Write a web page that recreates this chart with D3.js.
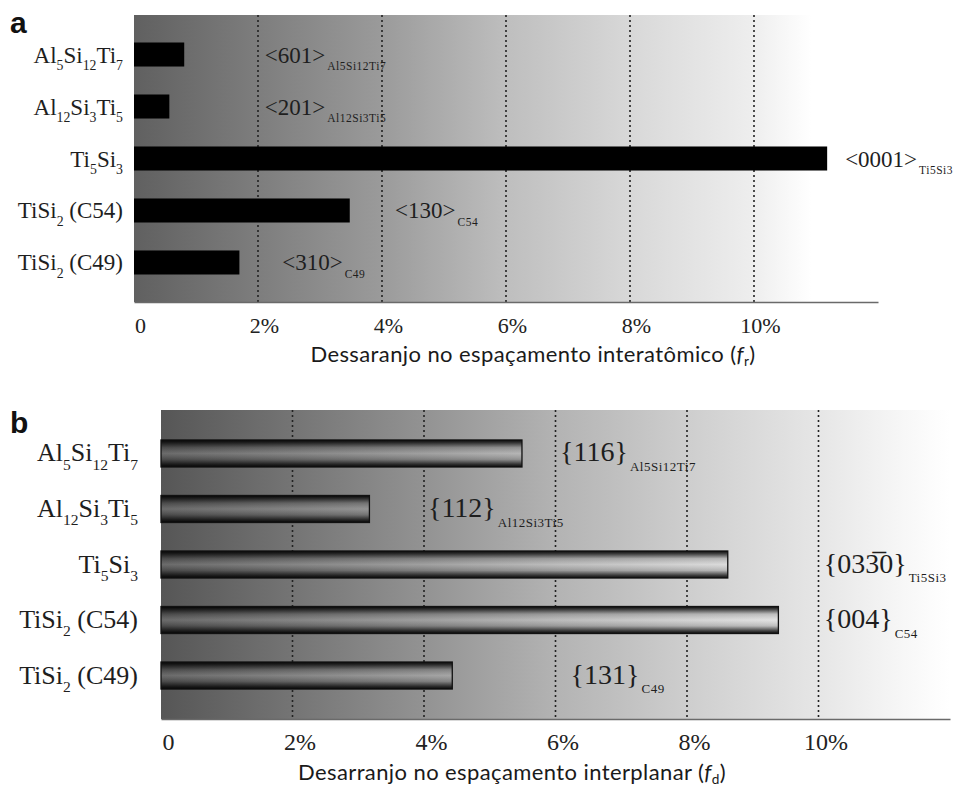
<!DOCTYPE html>
<html>
<head>
<meta charset="utf-8">
<script src="https://cdn.jsdelivr.net/npm/d3@7"></script>
<style>
  body { margin: 0; background: #fff; }
  svg { display: block; }
</style>
</head>
<body>
<svg id="chart" width="963" height="789"></svg>
<script>
// ---- data -------------------------------------------------------------
const phases = ["Al5Si12Ti7", "Al12Si3Ti5", "Ti5Si3", "TiSi2 (C54)", "TiSi2 (C49)"];
// misfit in interatomic spacing, f_r (%)
const misfitAtomic = [0.81, 0.57, 11.18, 3.48, 1.70];
// misfit in interplanar spacing, f_d (%)
const misfitPlanar = [5.49, 3.17, 8.62, 9.39, 4.43];
// matching directions and planes, with the phase they belong to
const directions = ["<601>", "<201>", "<0001>", "<130>", "<310>"];
const planes = ["{116}", "{112}", "{03" + "3\u0305" + "0}", "{004}", "{131}"];
const noteSubs = ["Al5Si12Ti7", "Al12Si3Ti5", "Ti5Si3", "C54", "C49"];
const tickValues = [0, 2, 4, 6, 8, 10];
const gridValues = [2, 4, 6, 8, 10];

// ---- layout (where each note starts, in % units of its axis) ---------
const noteAtA = [2.11, 2.11, 11.47, 4.21, 2.39];
const noteAtB = [6.07, 4.06, 10.08, 10.08, 6.23];

const svg = d3.select("#chart");
const defs = svg.append("defs");
const serif = "'Liberation Serif', 'Times New Roman', serif";
const sans = "Lato, 'Open Sans', sans-serif";

// split a formula such as "TiSi2 (C54)" into normal / subscript runs
function formulaRuns(s) {
  const runs = [];
  let depth = 0, prevLetter = false;
  for (const ch of s) {
    if (ch === "(") depth++;
    if (ch === ")") depth--;
    const isDigit = /[0-9]/.test(ch);
    const sub = isDigit && depth === 0 && prevLetter;
    if (runs.length && runs[runs.length - 1].sub === sub) runs[runs.length - 1].t += ch;
    else runs.push({ t: ch, sub });
    prevLetter = /[A-Za-z]/.test(ch) || sub;
  }
  return runs;
}

function writeRuns(textSel, runs, subSize, shift) {
  let down = false;
  runs.forEach(r => {
    const ts = textSel.append("tspan").text(r.t);
    if (r.sub && !down) { ts.attr("dy", shift); down = true; }
    else if (!r.sub && down) { ts.attr("dy", -shift); down = false; }
    if (r.sub) ts.attr("font-size", subSize);
  });
}

function gradient(id, x1, x2, stops) {
  const g = defs.append("linearGradient").attr("id", id)
    .attr("gradientUnits", "userSpaceOnUse")
    .attr("x1", x1).attr("x2", x2).attr("y1", 0).attr("y2", 0);
  stops.forEach(([o, c]) => g.append("stop").attr("offset", o).attr("stop-color", c));
}

// tube shading for the bars of panel b
const shade = defs.append("linearGradient").attr("id", "tube")
  .attr("x1", 0).attr("y1", 0).attr("x2", 0).attr("y2", 1);
[[0, "#000", 0.95], [0.1, "#000", 0.7], [0.28, "#000", 0.15], [0.5, "#fff", 0.12],
 [0.72, "#000", 0.15], [0.9, "#000", 0.7], [1, "#000", 0.95]]
  .forEach(([o, c, a]) => shade.append("stop").attr("offset", o)
    .attr("stop-color", c).attr("stop-opacity", a));

function drawPanel(cfg) {
  const g = svg.append("g");
  const x = d3.scaleLinear().domain([0, 12]).range([cfg.left, cfg.right]);
  const y = d3.scaleBand().domain(phases).range([cfg.top, cfg.bottom])
    .paddingInner(cfg.padIn).paddingOuter(cfg.padOut);

  gradient(cfg.id, cfg.left, cfg.right, cfg.stops);

  // shaded plotting area
  g.append("rect")
    .attr("x", x(0)).attr("y", cfg.top)
    .attr("width", x(12) - x(0)).attr("height", cfg.bottom - cfg.top)
    .attr("fill", `url(#${cfg.id})`);

  // dotted grid
  g.selectAll(".grid").data(gridValues).join("line")
    .attr("x1", d => x(d)).attr("x2", d => x(d))
    .attr("y1", cfg.top).attr("y2", cfg.bottom)
    .attr("stroke", "#222").attr("stroke-width", 1.6)
    .attr("stroke-dasharray", "2,3");

  // bars
  const values = cfg.values;
  if (cfg.tube) {
    g.selectAll(".barbase").data(phases).join("rect")
      .attr("x", x(0)).attr("y", d => y(d))
      .attr("width", (d, i) => x(values[i]) - x(0)).attr("height", y.bandwidth())
      .attr("fill", `url(#${cfg.id})`);
    g.selectAll(".bar").data(phases).join("rect")
      .attr("x", x(0)).attr("y", d => y(d))
      .attr("width", (d, i) => x(values[i]) - x(0)).attr("height", y.bandwidth())
      .attr("fill", "url(#tube)").attr("stroke", "#111").attr("stroke-width", 1.3);
  } else {
    g.selectAll(".bar").data(phases).join("rect")
      .attr("x", x(0)).attr("y", d => y(d))
      .attr("width", (d, i) => x(values[i]) - x(0)).attr("height", y.bandwidth())
      .attr("fill", "#000");
  }

  // phase names
  phases.forEach(p => {
    const t = g.append("text")
      .attr("x", cfg.labelX).attr("y", y(p) + y.bandwidth() / 2 + 8)
      .attr("text-anchor", "end").attr("font-family", serif)
      .attr("font-size", cfg.labelSize).attr("fill", "#1e1e1e");
    writeRuns(t, formulaRuns(p), cfg.labelSize * 0.6, cfg.labelSize * 0.32);
  });

  // orientation notes
  cfg.notes.forEach((n, i) => {
    const t = g.append("text")
      .attr("x", x(cfg.noteAt[i])).attr("y", y(phases[i]) + y.bandwidth() / 2 + 8)
      .attr("font-family", serif).attr("font-size", cfg.noteSize).attr("fill", "#1e1e1e");
    t.append("tspan").text(n);
    t.append("tspan").attr("dy", cfg.noteSize * 0.34).attr("dx", 2)
      .attr("letter-spacing", 0.5)
      .attr("font-size", cfg.subSize).text(noteSubs[i]);
  });

  // x axis
  const axis = d3.axisBottom(x).tickValues(tickValues).tickSize(0).tickSizeOuter(0)
    .tickFormat(v => v === 0 ? "0" : v + "%");
  const ax = g.append("g").attr("transform", `translate(0,${cfg.bottom})`).call(axis);
  ax.select(".domain").attr("stroke", "#6a6a6a").attr("stroke-width", 1.6);
  ax.selectAll(".tick text")
    .attr("y", cfg.tickDrop).attr("dy", 0).attr("dx", cfg.tickShift)
    .attr("font-family", serif).attr("font-size", cfg.tickSize).attr("fill", "#222");

  // axis title
  const title = g.append("text")
    .attr("x", cfg.titleX).attr("y", cfg.titleY).attr("text-anchor", "middle")
    .attr("font-family", sans).attr("font-size", cfg.titleSize)
    .attr("letter-spacing", 0.4).attr("fill", "#1a1a1a");
  title.append("tspan").text(cfg.title + " (");
  title.append("tspan").attr("font-style", "italic").text("f");
  title.append("tspan").attr("dy", 4).attr("font-size", cfg.titleSize * 0.62).text(cfg.titleSub);
  title.append("tspan").attr("dy", -4).text(")");

  // panel letter
  g.append("text").attr("x", cfg.letterX).attr("y", cfg.letterY)
    .attr("font-family", "'Liberation Sans', Arial, sans-serif").attr("font-weight", "bold")
    .attr("font-size", 30).attr("fill", "#111").text(cfg.letter);
}

drawPanel({
  id: "bgA", letter: "a", letterX: 10, letterY: 33,
  left: 134, right: 878, top: 15, bottom: 302, padIn: 0.538, padOut: 0.529,
  values: misfitAtomic, tube: false,
  stops: [[0, "#606060"], [0.33, "#9a9a9a"], [0.5, "#bebebe"], [0.667, "#d8d8d8"],
          [0.832, "#eeeeee"], [0.91, "#ffffff"], [1, "#ffffff"]],
  labelX: 123, labelSize: 23,
  notes: directions, noteAt: noteAtA, noteSize: 23, subSize: 11.5,
  tickSize: 22, tickDrop: 31, tickShift: 6,
  title: "Dessaranjo no espaçamento interatômico", titleSub: "r",
  titleX: 533, titleY: 362, titleSize: 22
});

drawPanel({
  id: "bgB", letter: "b", letterX: 10, letterY: 433,
  left: 161, right: 950, top: 410, bottom: 719, padIn: 0.5135, padOut: 0.54,
  values: misfitPlanar, tube: true,
  stops: [[0, "#565656"], [0.33, "#929292"], [0.5, "#b3b3b3"], [0.668, "#cecece"],
          [0.833, "#e6e6e6"], [0.975, "#fcfcfc"], [1, "#ffffff"]],
  labelX: 138, labelSize: 26,
  notes: planes, noteAt: noteAtB, noteSize: 28, subSize: 13,
  tickSize: 24, tickDrop: 31, tickShift: 7,
  title: "Desarranjo no espaçamento interplanar", titleSub: "d",
  titleX: 512, titleY: 780, titleSize: 22
});
</script>
</body>
</html>
